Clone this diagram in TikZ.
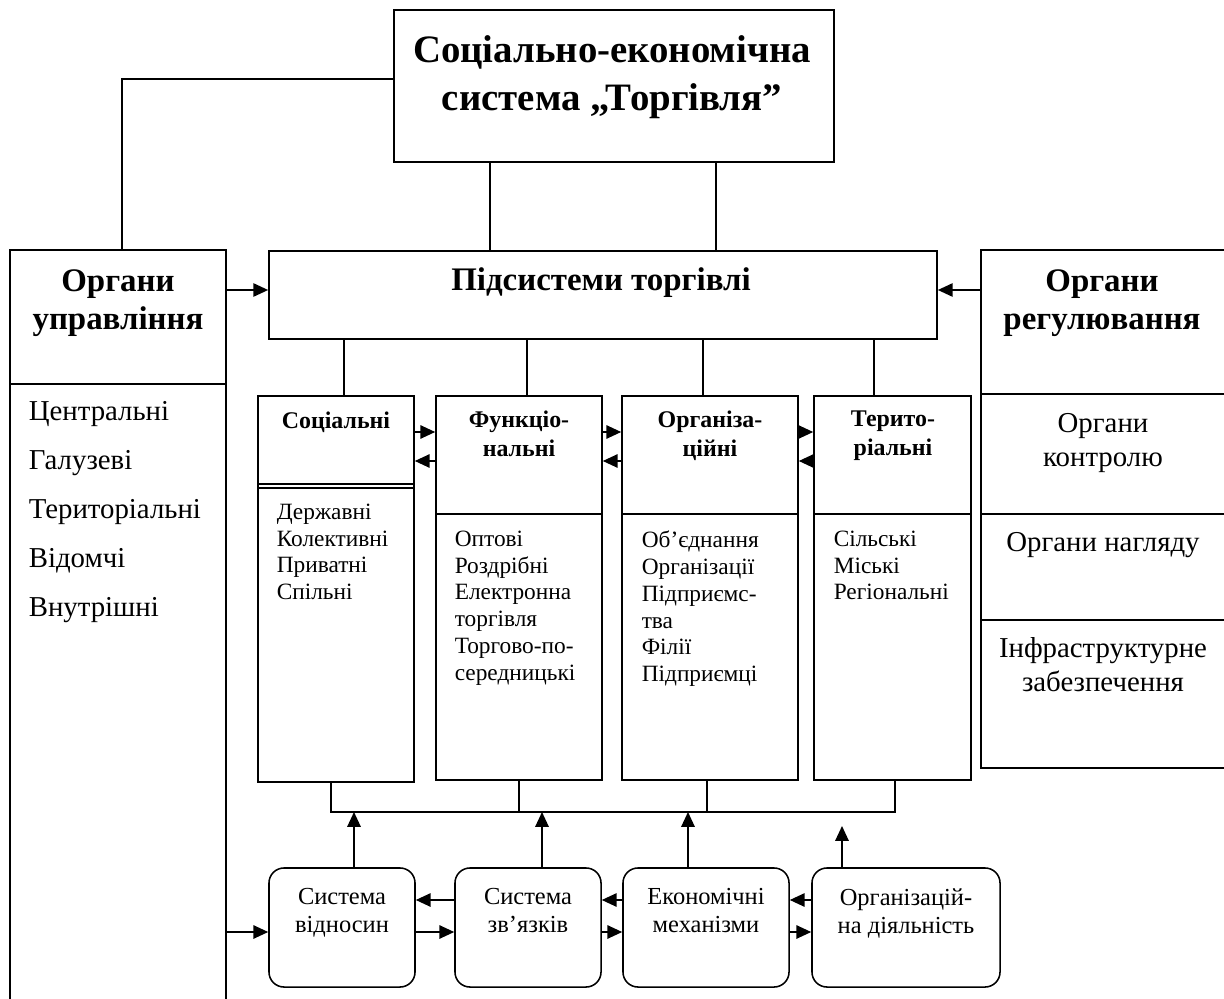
\documentclass[tikz,border=0pt]{standalone}
\usepackage{fontspec}
\setmainfont{Liberation Serif}
\usetikzlibrary{arrows.meta}

\newcommand{\titlefont}{\fontsize{27.6}{34}\selectfont\bfseries}
\newcommand{\hdfont}{\fontsize{23.4}{27}\selectfont\bfseries}
\newcommand{\subhdfont}{\fontsize{17}{20.5}\selectfont\bfseries}
\newcommand{\lstfont}{\fontsize{16.6}{19.1}\selectfont}
\newcommand{\biglstfont}{\fontsize{20.5}{34.7}\selectfont}
\newcommand{\regfont}{\fontsize{20.5}{24}\selectfont}
\newcommand{\rfont}{\fontsize{17.4}{19.8}\selectfont}

\begin{document}
\begin{tikzpicture}[x=0.025cm, y=-0.025cm, line width=1.1pt,
    box/.style={draw, rectangle, inner sep=0pt},
    rbox/.style={draw, rectangle, rounded corners=0.375cm, inner sep=0pt, minimum height=2.975cm},
    txt/.style={inner sep=0pt, align=center, anchor=north},
    lst/.style={inner sep=0pt, align=left, anchor=north west},
    arr/.style={-{Triangle[length=10.5pt,width=9.5pt]}}]
      \path[use as bounding box] (0,0) rectangle (1224,999);
      \clip (0,0) rectangle (1224,999);

      % boxes
      \node[box, minimum width=11cm, minimum height=3.8cm] (soc) at (614,86) {};
      \node[box, minimum width=16.7cm, minimum height=2.2cm] (PS) at (603,295) {};
      \node[box, minimum width=5.4cm, minimum height=19.25cm] (ORGU) at (118,635) {};
      \node[box, minimum width=6.475cm, minimum height=12.95cm] (ORGR) at (1110.5,509) {};

      \node[box, minimum width=3.9cm, minimum height=9.65cm] (S1) at (336,589) {};
      \node[box, minimum width=4.15cm, minimum height=9.6cm] (S2) at (519,588) {};
      \node[box, minimum width=4.4cm, minimum height=9.6cm] (S3) at (710,588) {};
      \node[box, minimum width=3.925cm, minimum height=9.6cm] (S4) at (892.5,588) {};

      \node[rbox, minimum width=3.65cm] (R1) at (342,927.5) {};
      \node[rbox, minimum width=3.65cm] (R2) at (528,927.5) {};
      \node[rbox, minimum width=4.15cm] (R3) at (706,927.5) {};
      \node[rbox, minimum width=4.7cm] (R4) at (906,927.5) {};

      \coordinate (bus) at (0,812);
      \coordinate (gap) at (842,826);

      % texts
      \node[txt, font=\titlefont] (socT) at (612,35)
        {Соціально-економічна\\система „Торгівля”};
      \node[txt, font=\hdfont] (PST) at (601,267) {Підсистеми торгівлі};
      \node[txt, font=\hdfont] (ORGUT) at (118,269) {Органи\\управління};
      \node[txt, font=\hdfont] (ORGRT) at (1102,269) {Органи\\регулювання};

      \node[lst, font=\biglstfont] (ORGUL) at (28,401)
        {Центральні\\Галузеві\\Територіальні\\Відомчі\\Внутрішні};

      \node[txt, font=\regfont] (ctrl) at (1103,413) {Органи\\контролю};
      \node[txt, font=\regfont] (nagl) at (1103,532) {Органи нагляду};
      \node[txt, font=\regfont] (infr) at (1103,637) {Інфраструктурне\\забезпечення};

      \node[txt, font=\subhdfont] (S1T) at (336,411) {Соціальні};
      \node[txt, font=\subhdfont] (S2T) at (519,410) {Функціо-\\нальні};
      \node[txt, font=\subhdfont] (S3T) at (710,410) {Організа-\\ційні};
      \node[txt, font=\subhdfont] (S4T) at (893,410) {Терито-\\ріальні};

      \node[lst, font=\lstfont] (S1L) at (276,503)
        {Державні\\Колективні\\Приватні\\Спільні};
      \node[lst, font=\lstfont] (S2L) at (454,530)
        {Оптові\\Роздрібні\\Електронна\\торгівля\\Торгово-по-\\середницькі};
      \node[lst, font=\lstfont] (S3L) at (641,530)
        {Об’єднання\\Організації\\Підприємс-\\тва\\Філії\\Підприємці};
      \node[lst, font=\lstfont] (S4L) at (833,530)
        {Сільські\\Міські\\Регіональні};

      \node[txt, font=\rfont] (R1T) at (342,888) {Система\\відносин};
      \node[txt, font=\rfont] (R2T) at (528,888) {Система\\зв’язків};
      \node[txt, font=\rfont] (R3T) at (706,888) {Економічні\\механізми};
      \node[txt, font=\rfont] (R4T) at (906,888) {Організацій-\\на діяльність};

      % dividers
      \draw (ORGU.west |- 0,384) -- (ORGU.east |- 0,384)
            (ORGR.west |- 0,394) -- (ORGR.east |- 0,394)
            (ORGR.west |- 0,514) -- (ORGR.east |- 0,514)
            (ORGR.west |- 0,620) -- (ORGR.east |- 0,620)
            (S1.west |- 0,484) -- (S1.east |- 0,484)
            (S1.west |- 0,488) -- (S1.east |- 0,488)
            (S2.west |- 0,514) -- (S2.east |- 0,514)
            (S3.west |- 0,514) -- (S3.east |- 0,514)
            (S4.west |- 0,514) -- (S4.east |- 0,514);

      % tree lines
      \draw (soc.west |- 0,79) -| (ORGU.north -| 122,0)
            (soc.south -| 490,0) -- (PS.north -| 490,0)
            (soc.south -| 716,0) -- (PS.north -| 716,0)
            (PS.south -| 344,0) -- (S1.north -| 344,0)
            (PS.south -| 527,0) -- (S2.north -| 527,0)
            (PS.south -| 703,0) -- (S3.north -| 703,0)
            (PS.south -| 874,0) -- (S4.north -| 874,0);

      \draw (S1.south -| 331,0) -- (bus -| 331,0) -- (bus -| 895,0) -- (S4.south -| 895,0)
            (S2.south -| 519,0) -- (bus -| 519,0)
            (S3.south -| 707,0) -- (bus -| 707,0);

      % arrows
      \draw[arr] (ORGU.east |- 0,290) -- (PS.west |- 0,290);
      \draw[arr] (ORGR.west |- 0,290) -- (PS.east |- 0,290);

      \draw[arr] (S1.east |- 0,432) -- (S2.west |- 0,432);
      \draw[arr] (S2.west |- 0,461) -- (S1.east |- 0,461);
      \draw[arr] (S2.east |- 0,432) -- (S3.west |- 0,432);
      \draw[arr] (S3.west |- 0,461) -- (S2.east |- 0,461);
      \draw[arr] (S3.east |- 0,432) -- (S4.west |- 0,432);
      \draw[arr] (S4.west |- 0,461) -- (S3.east |- 0,461);

      \draw[arr] (R1.north -| 354,0) -- (bus -| 354,0);
      \draw[arr] (R2.north -| 542,0) -- (bus -| 542,0);
      \draw[arr] (R3.north -| 688,0) -- (bus -| 688,0);
      \draw[arr] (R4.north -| gap) -- (gap);

      \draw[arr] (ORGU.east |- 0,932) -- (R1.west |- 0,932);
      \draw[arr] (R2.west |- 0,900) -- (R1.east |- 0,900);
      \draw[arr] (R1.east |- 0,932) -- (R2.west |- 0,932);
      \draw[arr] (R3.west |- 0,900) -- (R2.east |- 0,900);
      \draw[arr] (R2.east |- 0,932) -- (R3.west |- 0,932);
      \draw[arr] (R4.west |- 0,900) -- (R3.east |- 0,900);
      \draw[arr] (R3.east |- 0,932) -- (R4.west |- 0,932);
    \end{tikzpicture}
\end{document}
